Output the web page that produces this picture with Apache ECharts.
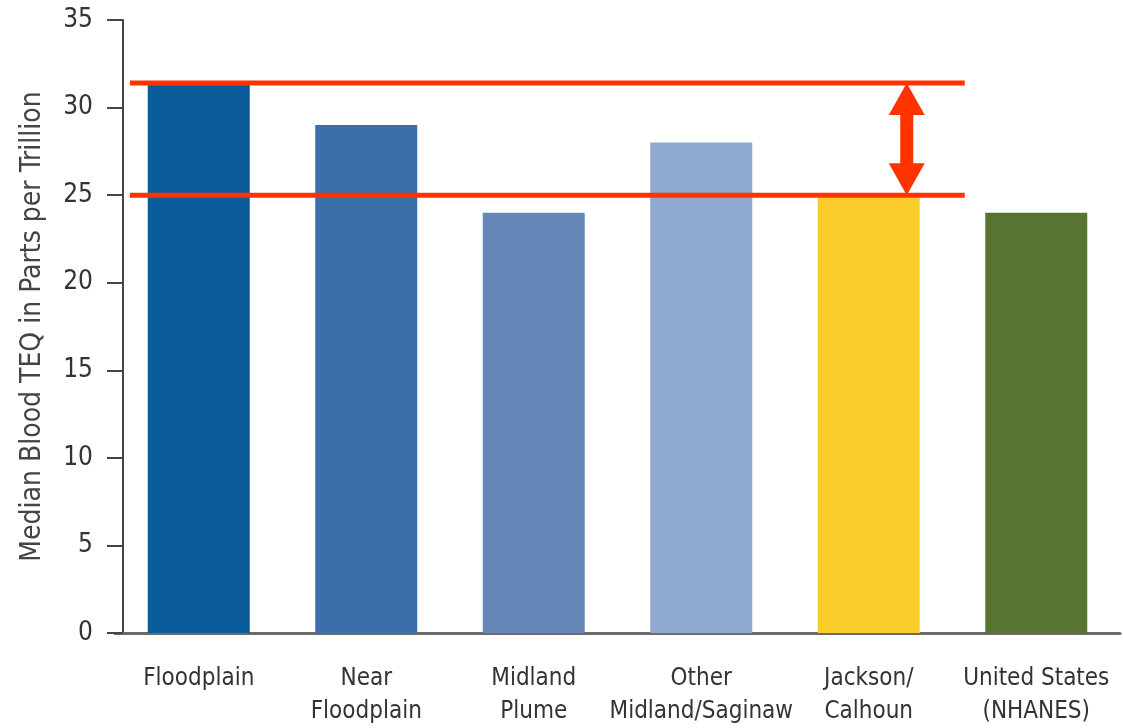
<!DOCTYPE html>
<html>
<head>
<meta charset="utf-8">
<script src="https://cdn.jsdelivr.net/npm/echarts@6/dist/echarts.min.js"></script>
<style>
html, body { margin: 0; padding: 0; background: #fff; }
#chart { width: 1123px; height: 728px; }
</style>
</head>
<body>
<div id="chart"></div>
<script>
// data
const categories = ['Floodplain', 'Near\nFloodplain', 'Midland\nPlume', 'Other\nMidland/Saginaw', 'Jackson/\nCalhoun', 'United States\n(NHANES)']
const teqValues = [31.4, 29, 24, 28, 25, 24]
const barColors = ['#0b5c9a', '#3a6ea9', '#6688b9', '#8fa9d1', '#fbcd2c', '#577432']
const yTicks = [0, 5, 10, 15, 20, 25, 30, 35]
// the two red reference lines (floodplain vs jackson/calhoun)
const refLevels = [31.4, 25]

const chart = echarts.init(document.getElementById('chart'))
const labelFont = '"DejaVu Sans Condensed", "DejaVu Sans", sans-serif'

const option = {
  animation: false,
  grid: { left: 115, right: 3, top: 20, bottom: 95 },
  xAxis: {
    type: 'category',
    data: categories,
    axisLine: { lineStyle: { color: '#6b6b6b', width: 3 } },
    axisTick: { show: false },
    axisLabel: {
      interval: 0,
      margin: 29,
      color: '#333',
      fontFamily: labelFont,
      fontSize: 24,
      lineHeight: 33
    }
  },
  yAxis: {
    type: 'value',
    min: yTicks[0],
    max: yTicks[yTicks.length - 1],
    interval: 5,
    offset: -8,
    name: 'Median Blood TEQ in Parts per Trillion',
    nameLocation: 'middle',
    nameGap: 76,
    nameTextStyle: {
      color: '#444',
      fontFamily: labelFont,
      fontSize: 28
    },
    splitLine: { show: false },
    axisLine: { show: true, lineStyle: { color: '#444', width: 2 } },
    axisTick: { show: true, length: 16, lineStyle: { color: '#444', width: 2 } },
    axisLabel: {
      margin: 30,
      color: '#333',
      fontFamily: labelFont,
      fontSize: 26
    }
  },
  series: [{
    type: 'bar',
    barWidth: 102,
    data: teqValues.map((v, i) => ({ value: v, itemStyle: { color: barColors[i] } })),
    z: 2
  }, {
    // red lines + double arrow
    type: 'custom',
    data: [refLevels],
    z: 5,
    silent: true,
    renderItem: function (params, api) {
      const cs = params.coordSys
      const top = api.value(0)
      const bot = api.value(1)
      const yTop = api.coord([0, top])[1]
      const yBot = api.coord([0, bot])[1]
      const jx = api.coord([4, bot])[0]
      const x1 = cs.x + 15
      const x2 = jx + 96
      const cx = jx + 38
      const hw = 18, hh = 32, sw = 6.5
      const red = '#ff3300'
      return {
        type: 'group',
        children: [{
          type: 'line',
          shape: { x1: x1, y1: yTop, x2: x2, y2: yTop },
          style: { stroke: red, lineWidth: 5 }
        }, {
          type: 'line',
          shape: { x1: x1, y1: yBot, x2: x2, y2: yBot },
          style: { stroke: red, lineWidth: 5 }
        }, {
          type: 'polygon',
          shape: {
            points: [
              [cx, yTop], [cx + hw, yTop + hh], [cx + sw, yTop + hh],
              [cx + sw, yBot - hh], [cx + hw, yBot - hh], [cx, yBot],
              [cx - hw, yBot - hh], [cx - sw, yBot - hh], [cx - sw, yTop + hh],
              [cx - hw, yTop + hh]
            ]
          },
          style: { fill: red }
        }]
      }
    }
  }]
}

chart.setOption(option)
</script>
</body>
</html>
